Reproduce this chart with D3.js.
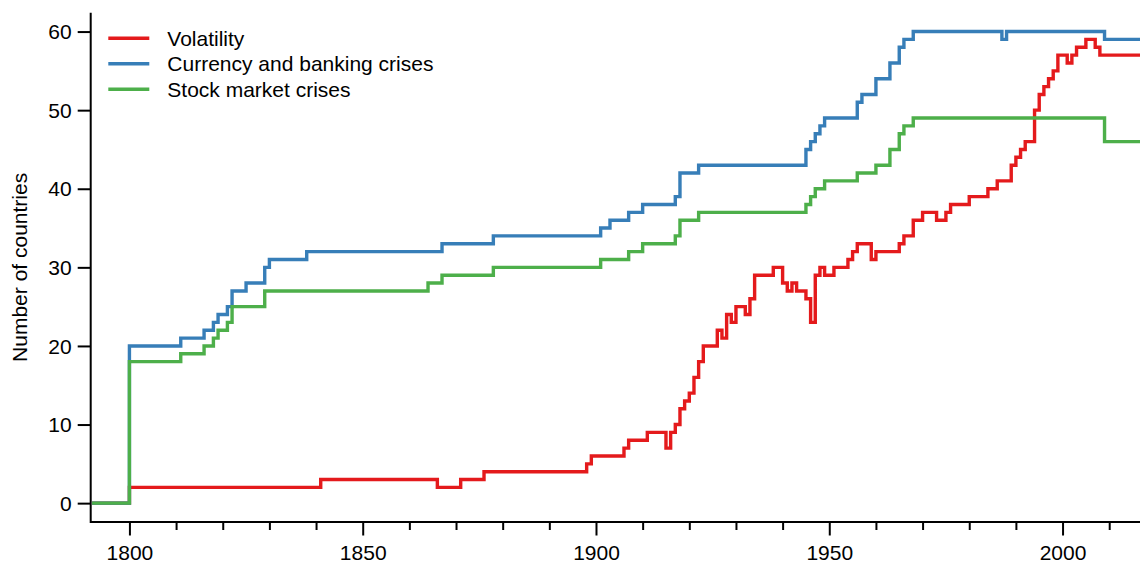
<!DOCTYPE html>
<html>
<head>
<meta charset="utf-8">
<script src="https://cdn.jsdelivr.net/npm/d3@7"></script>
<style>
  html, body { margin: 0; padding: 0; background: #fff; }
  svg { display: block; }
  text { font-family: "Liberation Sans", Arial, Helvetica, sans-serif; fill: #000; }
</style>
</head>
<body>
<svg id="chart" width="1140" height="561"></svg>
<script>
// Number of countries in each category, as step series: the year a count changes and its new value.
const seriesNames = ["Volatility", "Currency and banking crises", "Stock market crises"];

const volatilityYears = [1792, 1800, 1841, 1866, 1871, 1876, 1898, 1899, 1906, 1907, 1911, 1915, 1916, 1917, 1918, 1919, 1920, 1921, 1922, 1923, 1926, 1927, 1928, 1929, 1930, 1932, 1933, 1934, 1938, 1940, 1941, 1942, 1943, 1945, 1946, 1947, 1948, 1949, 1951, 1954, 1955, 1956, 1959, 1960, 1965, 1966, 1968, 1970, 1973, 1975, 1976, 1980, 1984, 1986, 1989, 1990, 1991, 1992, 1994, 1995, 1996, 1997, 1998, 1999, 2001, 2002, 2003, 2005, 2007, 2008];
const volatilityValues = [0, 2, 3, 2, 3, 4, 5, 6, 7, 8, 9, 7, 9, 10, 12, 13, 14, 16, 18, 20, 22, 21, 24, 23, 25, 24, 26, 29, 30, 28, 27, 28, 27, 26, 23, 29, 30, 29, 30, 31, 32, 33, 31, 32, 33, 34, 36, 37, 36, 37, 38, 39, 40, 41, 43, 44, 45, 46, 50, 52, 53, 54, 55, 57, 56, 57, 58, 59, 58, 57];

const bankingYears = [1792, 1800, 1811, 1816, 1818, 1819, 1821, 1822, 1825, 1829, 1830, 1838, 1867, 1878, 1901, 1903, 1907, 1910, 1917, 1918, 1922, 1945, 1946, 1947, 1948, 1949, 1956, 1957, 1960, 1963, 1965, 1966, 1968, 1987, 1988, 2009];
const bankingValues = [0, 20, 21, 22, 23, 24, 25, 27, 28, 30, 31, 32, 33, 34, 35, 36, 37, 38, 39, 42, 43, 45, 46, 47, 48, 49, 51, 52, 54, 56, 58, 59, 60, 59, 60, 59];

const stockYears = [1792, 1800, 1811, 1816, 1818, 1819, 1821, 1822, 1829, 1864, 1867, 1878, 1901, 1907, 1910, 1917, 1918, 1922, 1945, 1946, 1947, 1949, 1956, 1960, 1963, 1965, 1966, 1968, 2009];
const stockValues = [0, 18, 19, 20, 21, 22, 23, 25, 27, 28, 29, 30, 31, 32, 33, 34, 36, 37, 38, 39, 40, 41, 42, 43, 45, 47, 48, 49, 46];

const lastYear = 2017;
const xTickYears = d3.range(1800, 2011, 10);
const xLabelYears = [1800, 1850, 1900, 1950, 2000];
const yTickValues = [0, 10, 20, 30, 40, 50, 60];
const colors = ["#E41A1C", "#377EB8", "#4DAF4A"];

const svg = d3.select("#chart");
const plotLeft = 90.7, plotRight = 1140, plotTop = 12.7, plotBottom = 522;
const fontSize = 21;

const x = d3.scaleLinear().domain([1791.7, 2016.6]).range([plotLeft, plotRight]);
const y = d3.scaleLinear().domain([-2.4, 62.4]).range([plotBottom, plotTop]);

function toPoints(years, values) {
  const pts = years.map((yr, i) => [yr, values[i]]);
  pts.push([lastYear, values[values.length - 1]]);
  return pts;
}

const series = [
  toPoints(volatilityYears, volatilityValues),
  toPoints(bankingYears, bankingValues),
  toPoints(stockYears, stockValues)
];

svg.append("clipPath").attr("id", "plot-clip")
  .append("rect").attr("x", plotLeft).attr("y", 0)
  .attr("width", plotRight - plotLeft).attr("height", plotBottom);

const line = d3.line()
  .x(d => x(d[0]))
  .y(d => y(d[1]))
  .curve(d3.curveStepAfter);

svg.append("g").attr("clip-path", "url(#plot-clip)")
  .selectAll("path")
  .data(series)
  .join("path")
  .attr("d", line)
  .attr("fill", "none")
  .attr("stroke", (d, i) => colors[i])
  .attr("stroke-width", 3.4)
  .attr("stroke-linejoin", "miter");

// Axes
const yAxis = d3.axisLeft(y).tickValues(yTickValues).tickSize(13).tickSizeOuter(0).tickPadding(6);
const gy = svg.append("g").attr("transform", `translate(${plotLeft},0)`).call(yAxis);
gy.attr("font-family", null).attr("font-size", null);
gy.select(".domain").remove();
gy.selectAll(".tick line").attr("stroke", "#000").attr("stroke-width", 2);
gy.selectAll(".tick text").attr("font-size", fontSize).attr("dy", "0.34em");

const xAxis = d3.axisBottom(x).tickValues(xTickYears).tickSizeOuter(0)
  .tickSize(0).tickFormat(d => xLabelYears.includes(d) ? d : "");
const gx = svg.append("g").attr("transform", `translate(0,${plotBottom})`).call(xAxis);
gx.attr("font-family", null).attr("font-size", null);
gx.select(".domain").remove();
gx.selectAll(".tick line")
  .attr("y2", d => xLabelYears.includes(d) ? 13.5 : 8)
  .attr("stroke", "#000").attr("stroke-width", 2);
gx.selectAll(".tick text").attr("font-size", fontSize).attr("y", 37.5).attr("dy", null);

svg.append("path")
  .attr("d", `M${plotLeft},${plotTop}V${plotBottom}H${plotRight}`)
  .attr("fill", "none").attr("stroke", "#000").attr("stroke-width", 2)
  .attr("stroke-linejoin", "miter");

svg.append("text")
  .attr("transform", `translate(20,${(plotTop + plotBottom) / 2}) rotate(-90)`)
  .attr("text-anchor", "middle").attr("dy", "0.35em")
  .attr("font-size", fontSize)
  .text("Number of countries");

// Legend
const legend = svg.append("g").attr("transform", "translate(108.3,38.3)");
const items = legend.selectAll("g").data(seriesNames).join("g")
  .attr("transform", (d, i) => `translate(0,${i * 25.5})`);
items.append("line").attr("x1", 0).attr("x2", 41).attr("y1", 0).attr("y2", 0)
  .attr("stroke", (d, i) => colors[i]).attr("stroke-width", 3.4);
items.append("text").attr("x", 59).attr("dy", "0.35em").attr("font-size", fontSize).text(d => d);
</script>
</body>
</html>
